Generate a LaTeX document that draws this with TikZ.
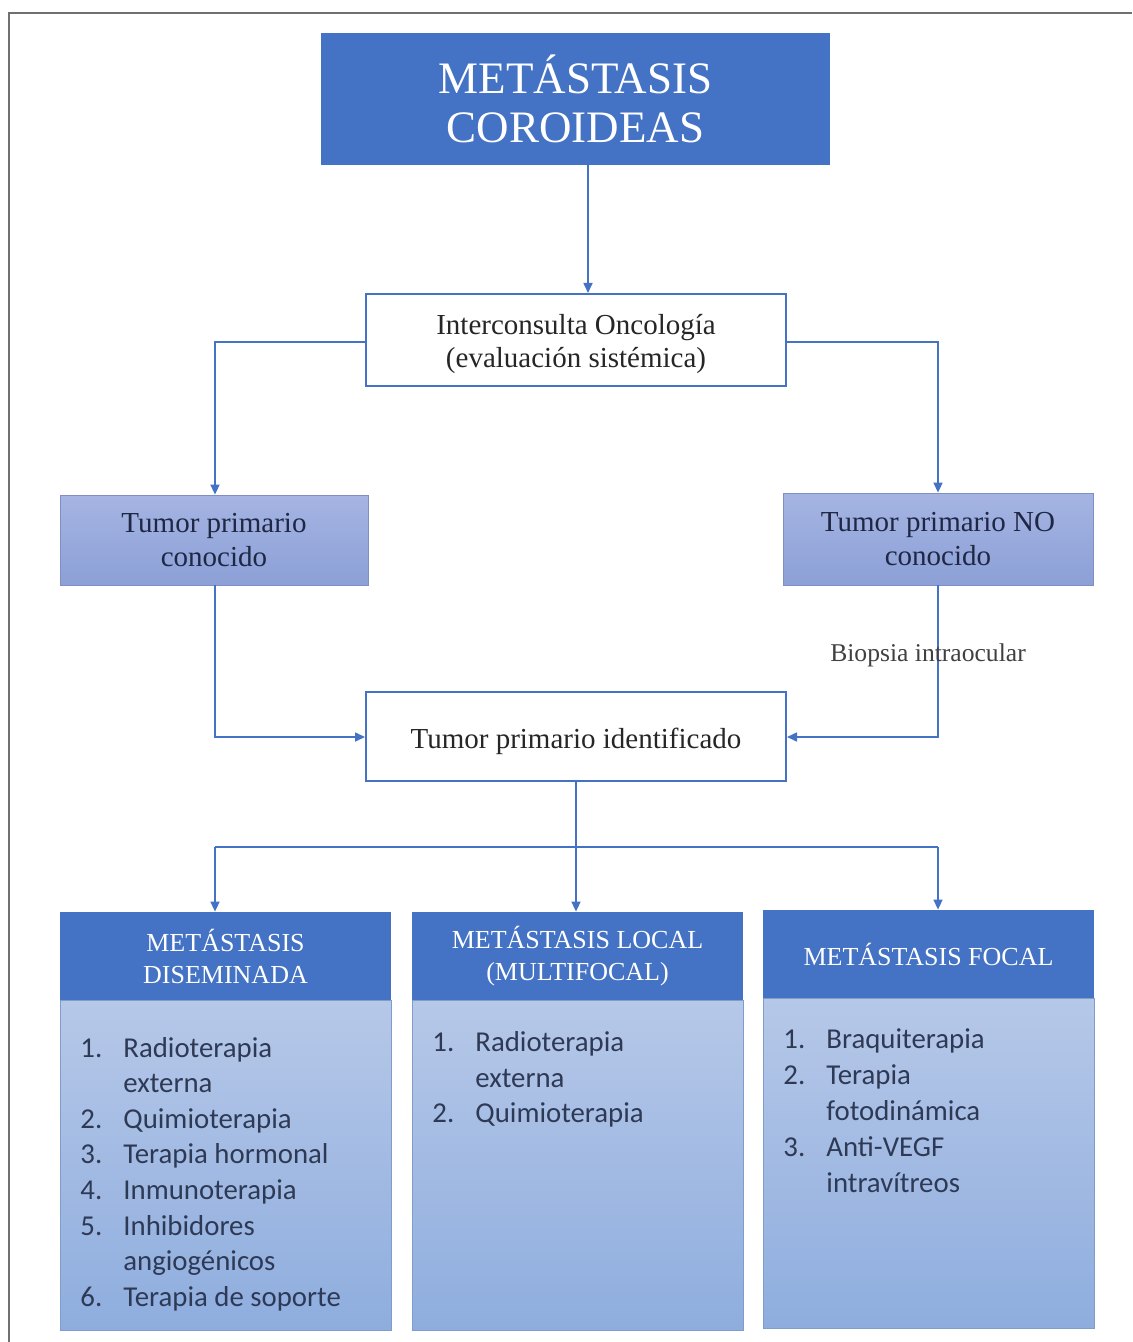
\documentclass[tikz,border=0pt]{standalone}
\usepackage{fontspec}
\setmainfont{Liberation Serif}
\newfontfamily\calib{Carlito}
\usetikzlibrary{arrows.meta}
\definecolor{obl}{HTML}{4472C4}
\definecolor{tumtop}{HTML}{A5B4E2}
\definecolor{tumbot}{HTML}{8CA0D7}
\definecolor{bodtop}{HTML}{B6C8E8}
\definecolor{bodbot}{HTML}{8EADDE}
\definecolor{bodtx}{HTML}{2E3A55}
\definecolor{tumtx}{HTML}{1E2744}
\definecolor{frm}{HTML}{707070}
\begin{document}
\begin{tikzpicture}[x=0.5pt,y=-0.5pt,
  conn/.style={draw=obl, line width=0.8pt},
  arr/.style={conn, -{Triangle[length=5pt,width=4.5pt]}},
  titlebox/.style={fill=obl, draw=none, text=white, align=center, inner sep=0pt,
    font=\fontsize{22.5}{24.5}\selectfont},
  wbox/.style={fill=white, draw=obl, line width=1pt, align=center, inner sep=0pt,
    text=black!85, font=\fontsize{14.5}{16.5}\selectfont},
  tbox/.style={top color=tumtop, bottom color=tumbot, draw=tumbot!90!black, line width=0.4pt,
    align=center, inner sep=0pt, text=tumtx, font=\fontsize{14.5}{17}\selectfont},
  hbox/.style={fill=obl, draw=none, text=white, align=center, inner sep=0pt,
    font=\fontsize{13}{16}\selectfont, minimum width=165.5pt, minimum height=44pt},
  bbox/.style={top color=bodtop, bottom color=bodbot, draw=bodbot!90!black, line width=0.4pt,
    inner sep=0pt, minimum width=165.5pt, minimum height=165pt},
  itm/.style={font=\calib\fontsize{14.4}{17}\selectfont, text=bodtx, inner sep=0pt, anchor=base west},
  lbl/.style={font=\fontsize{12.8}{15}\selectfont, text=black!75, inner sep=0pt, anchor=base}
]
\useasboundingbox (0,0) rectangle (1132,1342);
% frame
\draw[frm, line width=1pt] (8.5,1342) -- (8.5,13) -- (1132,13);

% nodes
\node[titlebox, minimum width=254.5pt, minimum height=66pt] (title) at (575.5,99) {METÁSTASIS\\COROIDEAS};
\node[wbox, minimum width=210pt, minimum height=46pt] (inter) at (576,340) {\rule{0pt}{14.5pt}Interconsulta Oncología\\(evaluación sistémica)};
\node[tbox, minimum width=154pt, minimum height=45pt] (tcon) at (214,540) {Tumor primario\\conocido};
\node[tbox, minimum width=155pt, minimum height=46pt] (tno) at (938,539) {Tumor primario NO\\conocido};
\node[wbox, minimum width=210pt, minimum height=44.5pt] (ident) at (576,736.5) {\rule{0pt}{15.5pt}Tumor primario identificado};

% bottom boxes
\node[bbox] (b1) at (225.5,1165) {};
\node[hbox] (h1) at (225.5,956) {METÁSTASIS\\DISEMINADA};
\node[bbox] (b2) at (577.5,1165) {};
\node[hbox] (h2) at (577.5,956) {METÁSTASIS LOCAL\\(MULTIFOCAL)};
\node[bbox] (b3) at (928.5,1163) {};
\node[hbox] (h3) at (928.5,954) {METÁSTASIS FOCAL};

% connectors
\coordinate (ta) at (588,165);
\draw[arr] (ta) -- (ta |- inter.north);
\coordinate (il) at (215,342);
\coordinate (ir) at (938,342);
\draw[arr] (inter.west |- il) -- (il) -- (il |- tcon.north);
\draw[arr] (inter.east |- ir) -- (ir) -- (ir |- tno.north);
\coordinate (cl) at (215,737);
\coordinate (cr) at (938,737);
\draw[arr] (tcon.south -| cl) -- (cl) -- (ident.west |- cl);
\draw[arr] (tno.south -| cr) -- (cr) -- (ident.east |- cr);
\node[lbl] (bio) at (928,661) {Biopsia intraocular};

\coordinate (jm) at (576,847);
\coordinate (jl) at (215,847);
\coordinate (jr) at (938,847);
\draw[conn] (ident.south) -- (jm);
\draw[conn] (jl) -- (jr);
\draw[arr] (jl) -- (jl |- h1.north);
\draw[arr] (jm) -- (jm |- h2.north);
\draw[arr] (jr) -- (jr |- h3.north);

% lists
\node[itm] (a1n) at (80,1057) {1.};  \node[itm] (a1t) at (123,1057) {Radioterapia};
\node[itm] (a1u) at (123,1092) {externa};
\node[itm] (a2n) at (80,1128) {2.};  \node[itm] (a2t) at (123,1128) {Quimioterapia};
\node[itm] (a3n) at (80,1163) {3.};  \node[itm] (a3t) at (123,1163) {Terapia hormonal};
\node[itm] (a4n) at (80,1199) {4.};  \node[itm] (a4t) at (123,1199) {Inmunoterapia};
\node[itm] (a5n) at (80,1235) {5.};  \node[itm] (a5t) at (123,1235) {Inhibidores};
\node[itm] (a5u) at (123,1270) {angiogénicos};
\node[itm] (a6n) at (80,1306) {6.};  \node[itm] (a6t) at (123,1306) {Terapia de soporte};

\node[itm] (c1n) at (432,1051) {1.};  \node[itm] (c1t) at (475,1051) {Radioterapia};
\node[itm] (c1u) at (475,1087) {externa};
\node[itm] (c2n) at (432,1122) {2.};  \node[itm] (c2t) at (475,1122) {Quimioterapia};

\node[itm] (f1n) at (783,1048) {1.};  \node[itm] (f1t) at (826,1048) {Braquiterapia};
\node[itm] (f2n) at (783,1084) {2.};  \node[itm] (f2t) at (826,1084) {Terapia};
\node[itm] (f2u) at (826,1120) {fotodinámica};
\node[itm] (f3n) at (783,1156) {3.};  \node[itm] (f3t) at (826,1156) {Anti-VEGF};
\node[itm] (f3u) at (826,1192) {intravítreos};
\end{tikzpicture}
\end{document}
